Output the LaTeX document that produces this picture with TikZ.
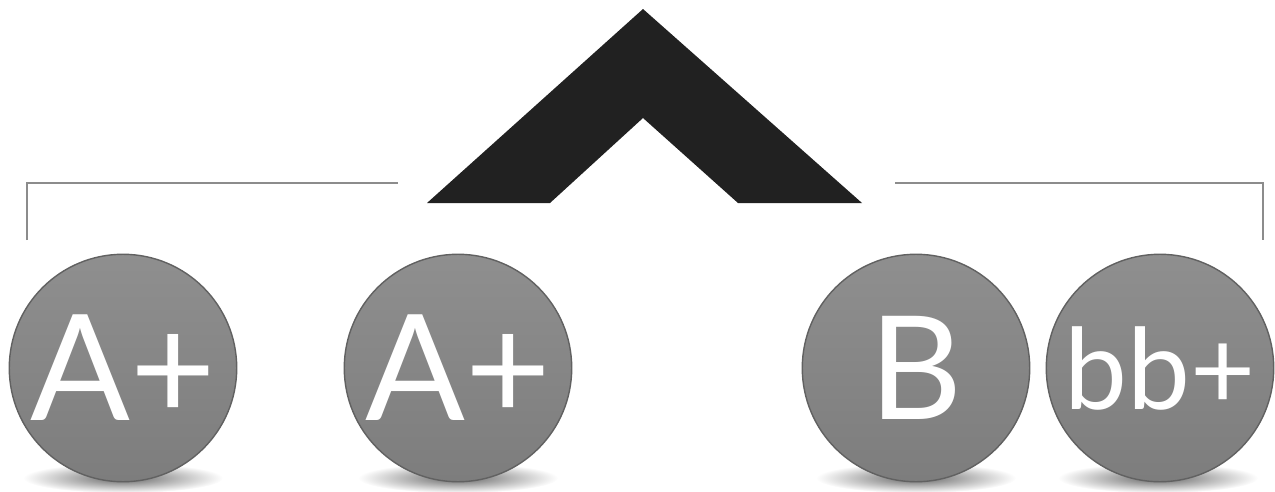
\documentclass[tikz,border=0pt]{standalone}
\usepackage{fontspec}
\setmainfont{Lato}
\usetikzlibrary{positioning,shapes.geometric}

\begin{document}
\begin{tikzpicture}[x=0.02cm, y=-0.02cm,
    ball/.style={circle, minimum size=4.55cm, inner sep=0pt, text=white,
      top color=black!44, bottom color=black!51, draw=black!62, line width=0.8pt},
    ballshadow/.style={ellipse, minimum width=4cm, minimum height=0.6cm, inner sep=0pt,
      inner color=black!60, outer color=white},
    brace/.style={black!45, line width=1.1pt}]
  \useasboundingbox (0,0) rectangle (1275,491);
  \begin{scope}
    \clip (0,0) rectangle (1275,491);
    % soft shadows under the balls
    \foreach \cx in {123,458,916,1158}
      \node[ballshadow] (s\cx) at (\cx,478) {};
  \end{scope}
  % balls
  \foreach \n/\cx/\fs/\txt in {a1/123/84/A+, a2/458/84/A+, b1/916/82/B, b2/1160/64/bb+}
    \node[ball, font=\fontsize{\fs}{\fs}\selectfont] (\n) at (\cx,368) {\txt};
  % caret
  \fill[black!87] (427,203) -- (643,9) -- (862,203) -- (738,203) -- (643,118) -- (550,203) -- cycle;
  % brackets
  \draw[brace] (27,240) -- (27,183) -- (398,183);
  \draw[brace] (895,183) -- (1263,183) -- (1263,240);
\end{tikzpicture}
\end{document}
